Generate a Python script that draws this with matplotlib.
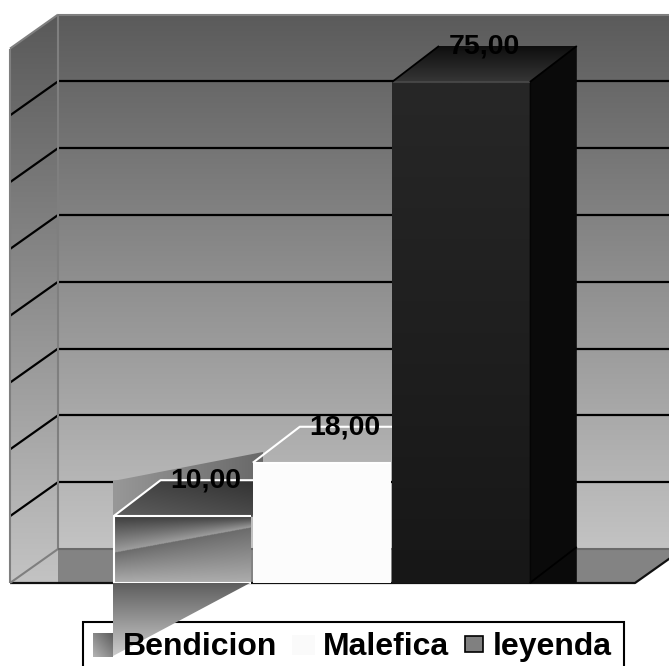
import numpy as np
import matplotlib.pyplot as plt
import matplotlib.colors as mcolors
from matplotlib.patches import Polygon

categories = ['Bendicion', 'Malefica', 'leyenda']
values = [10.0, 18.0, 75.0]
y_max = 80
y_step = 10

W, H = 669, 666
X0, XU = 182.5, 139.2   # centre of first bar, px per category
Y0, YU = 583.0, 6.68    # base line, px per value unit

FONT = 'Liberation Sans'

fig = plt.figure(figsize=(W / 100, H / 100), dpi=100)
ax = fig.add_axes([0, 0, 1, 1])
ax.set_axis_off()


def px(x, y):
    # picture pixel -> data coords
    return ((x - X0) / XU, (Y0 - y) / YU)


xmin, vtop = px(0, 0)
xmax, vbot = px(W, H)

# depth offsets of the fake 3d
wdx, wdy = 48 / XU, 34 / YU     # walls
bdx, bdy = 47 / XU, 36 / YU     # columns
half = 0.495
xl = px(10, 0)[0]     # left wall front edge
xr = px(635, 0)[0]    # floor front right corner


def put_img(pts, img, z):
    pts = np.asarray(pts, float)
    x0, y0 = pts.min(axis=0)
    x1, y1 = pts.max(axis=0)
    im = ax.imshow(img, extent=(x0, x1, y0, y1), origin='lower',
                   aspect='auto', zorder=z, interpolation='bilinear')
    clip = Polygon(pts, closed=True, fc='none', ec='none')
    ax.add_patch(clip)
    im.set_clip_path(clip)


def fill_grad(pts, c_from, c_to, d=(0, 1), z=1, n=160):
    u, w = np.meshgrid(np.linspace(0, 1, n), np.linspace(0, 1, n))
    t = u * d[0] + w * d[1]
    t = (t - t.min()) / (np.ptp(t) or 1)
    a = np.array(mcolors.to_rgb(c_from))
    b = np.array(mcolors.to_rgb(c_to))
    put_img(pts, a + (b - a) * t[..., None], z)


def line(xs, ys, c='k', lw=1.6, z=2):
    ax.plot(xs, ys, color=c, lw=lw, zorder=z, solid_capstyle='butt')


# ---- walls and floor
fill_grad([(xl + wdx, wdy), (xmax + 1, wdy), (xmax + 1, y_max + wdy), (xl + wdx, y_max + wdy)],
          '#c3c3c3', '#5b5b5b', z=1)
fill_grad([(xl, 0), (xl + wdx, 0), (xl + wdx, y_max + wdy), (xl, y_max)],
          '#c3c3c3', '#595959', z=1)
ax.add_patch(Polygon([(xl + wdx, 0), (xr, 0), (xr + wdx, wdy), (xl + wdx, wdy)],
                     closed=True, fc='#838383', ec='none', zorder=1.5))

for v in range(y_step, y_max, y_step):
    line([xl + wdx, xmax + 1], [v + wdy] * 2)
    line([xl, xl + wdx], [v, v + wdy])

g = '#7f7f7f'
line([xl, xl], [0, y_max], g, 1.5)
line([xl + wdx] * 2, [wdy, y_max + wdy], g, 1.5)
line([xl + wdx, xmax + 1], [y_max + wdy] * 2, g, 1.5)
line([xl, xl + wdx], [y_max, y_max + wdy], g, 1.5)
line([xl, xl + wdx], [0, wdy], g, 1.5)
line([xl + wdx, xmax + 1], [wdy] * 2, '#6a6a6a', 1.5)
line([xl, xr, xr + wdx], [0, 0, wdy], '#111111', 1.6, 1.6)

# ---- glitch shading around the first column (as rendered in the original)
fill_grad([px(113, 481), px(263, 452), px(263, 517), px(113, 517)],
          '#989898', '#686868', d=(1, 0), z=3)
fill_grad([px(113, 583), px(250, 583), px(113, 656)],
          '#cccccc', '#5e5e5e', d=(0, 1), z=9.5)

# ---- columns
xs = np.arange(len(values))
for i, (c, v) in enumerate(zip(xs, values)):
    a, b = c - half, c + half
    front = [(a, 0), (b, 0), (b, v), (a, v)]
    side = [(b, 0), (b + bdx, 0), (b + bdx, v + bdy), (b, v)]
    top = [(a, v), (b, v), (b + bdx, v + bdy), (a + bdx, v + bdy)]
    z = 4 + i
    if i == 0:
        n = 160
        u, w = np.meshgrid(np.linspace(0, 1, n), np.linspace(0, 1, n))
        wb = 0.455 + 0.378 * u
        up = 0.62 - 0.38 * np.clip((w - wb) / (1 - wb), 0, 1)
        lo = 0.68 - 0.26 * np.clip(w / wb, 0, 1)
        gray = np.where(w > wb, up, lo)
        put_img(front, np.dstack([gray] * 3), z)
        fill_grad(top, '#5e5e5e', '#2c2c2c', d=(1, 1), z=z)
        line([a, a, b], [0, v, v], 'white', 1.5, z)
        line([a, b], [0, 0], 'white', 1.5, z)
        line([a, a + bdx, b + bdx], [v, v + bdy, v + bdy], 'white', 1.5, z)
    elif i == 1:
        ax.add_patch(Polygon(front, closed=True, fc='#fcfcfc', ec='none', zorder=z))
        line([a, a + bdx, b + bdx], [v, v + bdy, v + bdy], 'white', 1.5, z)
        line([a, b], [v, v], 'white', 1.5, z)
    else:
        fill_grad(front, '#171717', '#272727', z=z)
        ax.add_patch(Polygon(side, closed=True, fc='#0a0a0a', ec='none', zorder=z))
        fill_grad(top, '#363636', '#0e0e0e', d=(0, 1), z=z)
        line([a, b], [v, v], '#4a4a4a', 1.2, z)
        line([a, a + bdx], [v, v + bdy], 'k', 1.3, z)
        line([b, b + bdx], [v, v + bdy], 'k', 1.3, z)
        line([b, b + bdx], [0, bdy], 'k', 1.3, z)
        line([b, b], [0, v], '#050505', 1.0, z)

    ax.text(c + bdx / 2, v + bdy / 2 + 2.6, f'{v:.2f}'.replace('.', ','),
            ha='center', va='center', fontsize=20.5, fontweight='bold',
            family=FONT, color='black', zorder=10)

# ---- legend (box runs off the bottom of the picture)
ax.add_patch(Polygon([px(83, 622), px(624, 622), px(624, 700), px(83, 700)],
                     closed=True, fc='white', ec='black', lw=1.5, zorder=9))
fill_grad([px(93, 633), px(113, 633), px(113, 657), px(93, 657)],
          '#b4b4b4', '#5c5c5c', d=(1, 1), z=9.6)
ax.add_patch(Polygon([px(292, 635), px(315, 635), px(315, 655), px(292, 655)],
                     closed=True, fc='#fafafa', ec='none', zorder=9.6))
ax.add_patch(Polygon([px(465, 636), px(483, 636), px(483, 652), px(465, 652)],
                     closed=True, fc='#808080', ec='black', lw=1.2, zorder=9.6))
for name, lx in zip(categories, [123, 323, 493]):
    x, y = px(lx, 655)
    ax.text(x, y, name, ha='left', va='baseline', fontsize=23,
            fontweight='bold', family=FONT, color='black', zorder=10)

ax.set_xlim(xmin, xmax)
ax.set_ylim(vbot, vtop)
fig.savefig('out.png', dpi=100, facecolor='white')
